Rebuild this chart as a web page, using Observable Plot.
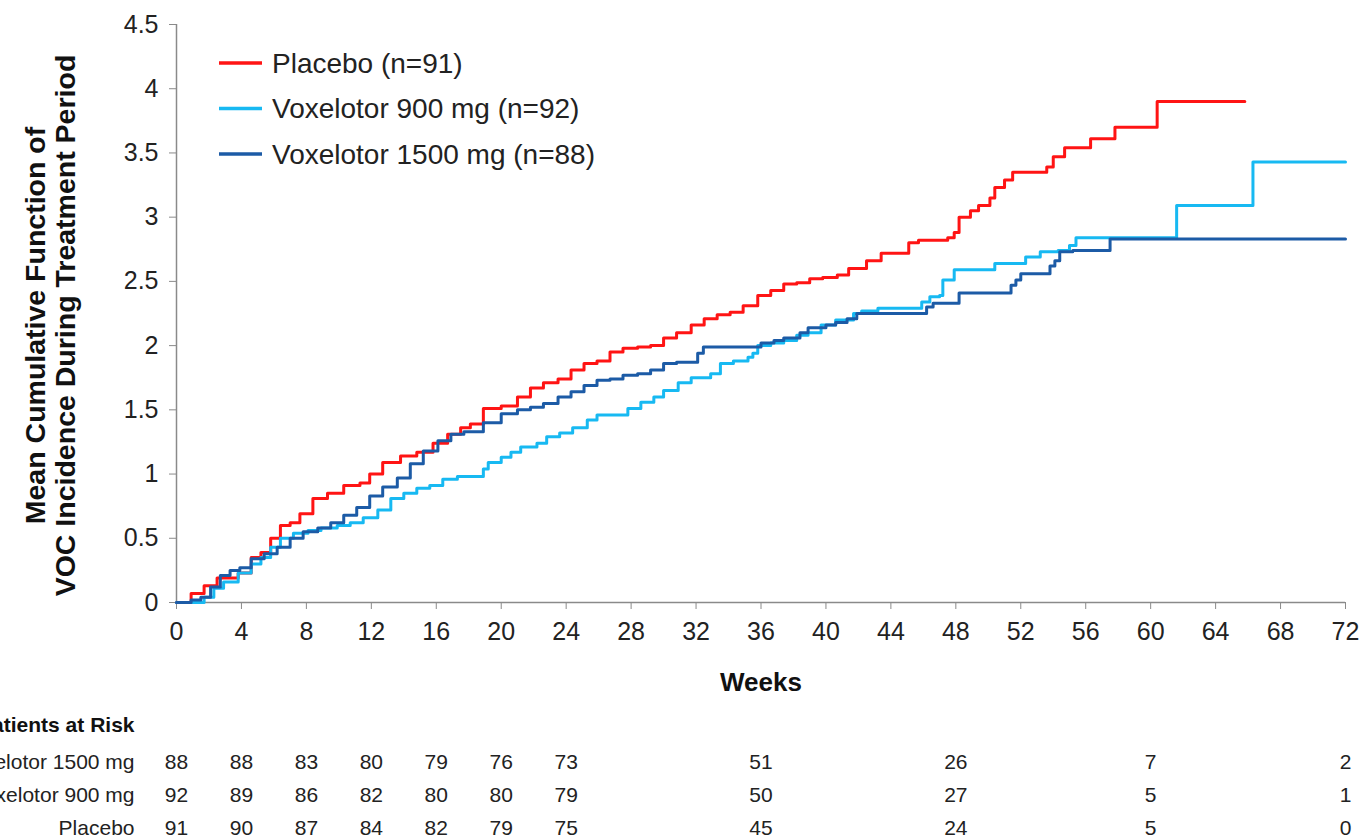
<!DOCTYPE html>
<html><head><meta charset="utf-8">
<script src="https://cdn.jsdelivr.net/npm/d3@7"></script>
<script src="https://cdn.jsdelivr.net/npm/@observablehq/plot@0.6"></script>
<style>
body{margin:0;background:#fff;font-family:"Liberation Sans",Arial,sans-serif}
#chart svg{display:block}
</style>
</head><body><div id="chart"></div>
<script>
// ---- data ----
const seriesNames = ["Placebo (n=91)", "Voxelotor 900 mg (n=92)", "Voxelotor 1500 mg (n=88)"];
const seriesColors = ["#ff1414", "#17b9f2", "#1c5ba6"];

// [week, mean cumulative function]
const placebo = [[0,0],[0.9,0.07],[1.7,0.13],[2.5,0.19],[3.8,0.23],[4.6,0.35],[5.2,0.39],[5.8,0.5],[6.4,0.6],[7.0,0.62],[7.6,0.69],[8.4,0.81],[9.3,0.85],[10.3,0.91],[11.3,0.93],[11.9,1.0],[12.7,1.09],[13.8,1.14],[14.8,1.17],[15.8,1.24],[16.7,1.31],[17.5,1.36],[18.1,1.39],[18.9,1.51],[20.0,1.53],[21.0,1.6],[21.8,1.67],[22.6,1.71],[23.5,1.74],[24.3,1.81],[25.1,1.86],[25.9,1.88],[26.7,1.95],[27.5,1.98],[28.4,1.99],[29.2,2.0],[30.0,2.06],[30.8,2.1],[31.7,2.16],[32.5,2.21],[33.3,2.24],[34.1,2.26],[34.9,2.31],[35.8,2.39],[36.6,2.43],[37.4,2.48],[38.2,2.49],[39.0,2.52],[39.8,2.53],[40.7,2.55],[41.4,2.6],[42.5,2.66],[43.4,2.72],[45.1,2.8],[45.7,2.82],[47.5,2.84],[47.9,2.88],[48.2,3.0],[48.9,3.05],[49.4,3.09],[50.1,3.15],[50.4,3.23],[51.0,3.29],[51.5,3.35],[53.6,3.39],[54.0,3.47],[54.7,3.54],[56.3,3.61],[57.8,3.7],[60.4,3.9],[65.8,3.9]];
const vox900 = [[0,0],[1.3,0],[1.7,0.04],[2.3,0.11],[2.9,0.16],[3.8,0.23],[4.6,0.3],[5.2,0.35],[5.8,0.43],[6.4,0.5],[7.2,0.54],[8.1,0.56],[8.9,0.58],[9.9,0.6],[10.7,0.62],[11.5,0.66],[12.4,0.72],[13.2,0.81],[14.0,0.85],[14.8,0.89],[15.6,0.91],[16.4,0.96],[17.3,0.98],[18.9,1.04],[19.2,1.09],[20.0,1.13],[20.6,1.17],[21.2,1.21],[22.2,1.24],[22.8,1.29],[23.6,1.32],[24.4,1.36],[25.3,1.42],[25.9,1.46],[27.8,1.51],[28.6,1.56],[29.4,1.6],[30.0,1.65],[30.9,1.71],[31.7,1.75],[32.9,1.78],[33.5,1.86],[34.3,1.88],[35.2,1.91],[35.5,1.94],[35.8,2.0],[36.6,2.02],[37.4,2.04],[38.2,2.08],[38.9,2.1],[39.7,2.16],[40.6,2.2],[41.7,2.25],[42.2,2.27],[43.2,2.29],[45.9,2.34],[46.4,2.38],[47.0,2.39],[47.2,2.51],[47.9,2.59],[50.4,2.64],[52.3,2.69],[53.2,2.73],[54.3,2.74],[55.0,2.78],[55.4,2.84],[61.6,3.09],[66.3,3.43],[72,3.43]];
const vox1500 = [[0,0],[0.9,0.02],[1.5,0.04],[2.1,0.12],[2.7,0.21],[3.3,0.25],[3.9,0.27],[4.6,0.34],[5.4,0.38],[6.2,0.43],[7.0,0.5],[7.8,0.55],[8.7,0.58],[9.5,0.62],[10.3,0.68],[11.1,0.74],[11.9,0.83],[12.7,0.9],[13.6,0.97],[14.4,1.08],[15.2,1.18],[16.1,1.26],[16.9,1.31],[17.7,1.33],[18.9,1.4],[20.0,1.47],[21.0,1.5],[21.8,1.52],[22.6,1.55],[23.5,1.6],[24.3,1.64],[25.1,1.69],[25.9,1.73],[26.7,1.74],[27.5,1.77],[28.4,1.78],[29.2,1.81],[30.0,1.86],[30.8,1.87],[32.1,1.94],[32.45,1.99],[36.0,2.02],[36.8,2.04],[37.4,2.06],[38.4,2.1],[38.9,2.14],[40.0,2.16],[40.6,2.18],[41.3,2.21],[41.9,2.25],[46.2,2.3],[46.6,2.33],[48.2,2.41],[51.4,2.47],[51.7,2.51],[52.0,2.56],[53.8,2.62],[54.1,2.66],[54.4,2.73],[55.2,2.74],[57.5,2.83],[72,2.83]];

const xTicks = [0,4,8,12,16,20,24,28,32,36,40,44,48,52,56,60,64,68,72];
const yTicks = [0,0.5,1,1.5,2,2.5,3,3.5,4,4.5];

const riskTitle = "Patients at Risk";
const riskWeeks = [0,4,8,12,16,20,24,36,48,60,72];
const riskRows = ["Voxelotor 1500 mg", "Voxelotor 900 mg", "Placebo"];
const risk1500 = [88,88,83,80,79,76,73,51,26,7,2];
const risk900 = [92,89,86,82,80,80,79,50,27,5,1];
const riskPlacebo = [91,90,87,84,82,79,75,45,24,5,0];

const yTitle = "Mean Cumulative Function of\nVOC Incidence During Treatment Period";
const xTitle = "Weeks";

// ---- build ----
const font = '"Liberation Sans", Arial, sans-serif';
const curves = [placebo, vox900, vox1500].flatMap((s, i) =>
  s.map(([week, value]) => ({series: seriesNames[i], week, value})));

function legendMark(index, scales, values, dims) {
  const g = d3.create("svg:g").attr("font-family", font).attr("font-size", 28)
    .attr("fill", "#222").attr("text-anchor", "start");
  const x0 = dims.marginLeft + 43;
  seriesNames.forEach((name, i) => {
    const y = dims.marginTop + 39 + i * 45.5;
    g.append("line").attr("x1", x0).attr("x2", x0 + 43).attr("y1", y).attr("y2", y)
      .attr("stroke", seriesColors[i]).attr("stroke-width", 3.5);
    g.append("text").attr("x", x0 + 53).attr("y", y).attr("dy", "0.35em")
      .attr("text-anchor", "start").text(name);
  });
  return g.node();
}

const main = Plot.plot({
  width: 1362, height: 710,
  marginTop: 24, marginBottom: 108, marginLeft: 176, marginRight: 17,
  style: {fontFamily: font, background: "#fff", overflow: "visible"},
  x: {domain: [0, 72]},
  y: {domain: [0, 4.5]},
  color: {domain: seriesNames, range: seriesColors},
  marks: [
    Plot.axisX({ticks: xTicks, tickFormat: d => String(d), tickSize: 7, tickPadding: 13, fontSize: 25, label: null, stroke: "#8a8a8a", fill: "#222"}),
    Plot.axisY({ticks: yTicks, tickFormat: d => String(d), tickSize: 7, tickPadding: 11, fontSize: 25, label: null, stroke: "#8a8a8a", fill: "#222"}),
    Plot.ruleY([0], {stroke: "#8a8a8a", strokeWidth: 1.5}),
    Plot.ruleX([0], {stroke: "#8a8a8a", strokeWidth: 1.5}),
    Plot.line(curves, {x: "week", y: "value", z: "series", stroke: "series", strokeWidth: 3, curve: "step-after"}),
    Plot.text([xTitle], {frameAnchor: "bottom", dy: 88, fontSize: 26, fontWeight: "bold", fill: "#111"}),
    Plot.text([yTitle], {frameAnchor: "left", textAnchor: "middle", lineAnchor: "middle", dx: -126, dy: 12, rotate: -90, fontSize: 28.5, fontWeight: "bold", lineHeight: 1.05, fill: "#111"}),
    legendMark
  ]
});

const riskData = [risk1500, risk900, riskPlacebo].flatMap((arr, i) =>
  arr.map((n, j) => ({row: riskRows[i], week: riskWeeks[j], n})));

const table = Plot.plot({
  width: 1362, height: 128,
  marginTop: 0, marginBottom: 0, marginLeft: 176, marginRight: 17,
  style: {fontFamily: font, background: "#fff", overflow: "visible"},
  x: {domain: [0, 72], axis: null},
  y: {type: "point", domain: riskRows, range: [52, 118], padding: 0, axis: null},
  marks: [
    Plot.text([riskTitle], {frameAnchor: "top-left", textAnchor: "end", lineAnchor: "middle", dx: -42, dy: 15, fontWeight: "bold", fontSize: 21, fill: "#111"}),
    Plot.text(riskRows, {y: d => d, frameAnchor: "left", textAnchor: "end", dx: -42, fontSize: 21, fill: "#222"}),
    Plot.text(riskData, {x: "week", y: "row", text: "n", fontSize: 21, fill: "#222"})
  ]
});

const root = document.getElementById("chart");
root.append(main, table);
</script>
</body></html>
